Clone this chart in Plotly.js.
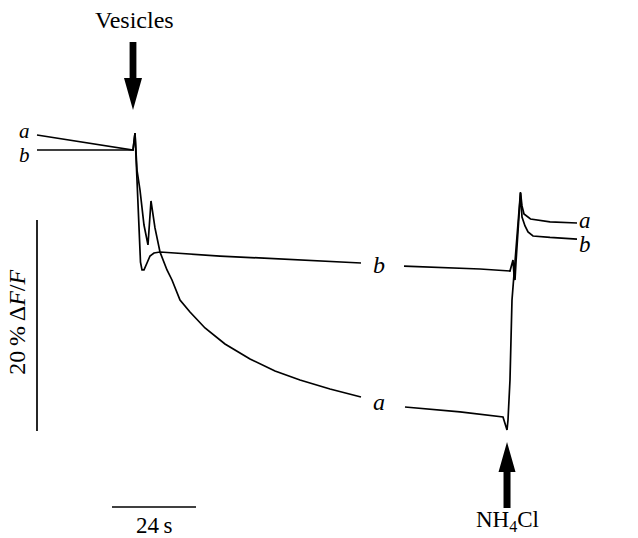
<!DOCTYPE html>
<html>
<head>
<meta charset="utf-8">
<script src="https://cdn.plot.ly/plotly-3.0.1.min.js"></script>
<style>html,body{margin:0;padding:0;background:#fff;}#chart{width:638px;height:538px;}</style>
</head>
<body>
<div id="chart"></div>
<script>
// Time (s) and fluorescence change (% ΔF/F); null = gap for the label
var timeA = [0, 27.43, 28.0, 28.57, 29.43, 30.57, 31.71, 32.57, 33.71, 35.14, 37.14, 38.57, 40.86, 43.71, 48.0, 53.71, 60.86, 68.0, 75.14, 83.71, 92.57, null,
             105.14, 120.86, 133.14, 134.29, 134.57, 135.14, 135.71, 136.86, 138.14, 138.57, 139.14, 141.0, 146.57, 154.29];
var fluorA = [1.42, 0, 1.61, -1.90, -3.79, -7.11, -9.00, -4.83, -7.39, -9.67, -11.37, -12.32, -14.22, -15.36, -16.87, -18.39, -19.81, -20.95, -21.80, -22.65, -23.41, null,
              -24.36, -24.83, -25.31, -26.54, -25.59, -21.8, -14.22, -9.48, -3.98, -5.3, -6.07, -6.54, -6.82, -6.92];

var timeB = [0, 27.43, 28.0, 28.57, 29.14, 29.57, 30.0, 30.57, 31.43, 32.29, 33.43, 35.14, 52.29, 92.57, null,
             104.86, 126.57, 135.14, 135.71, 136.0, 136.29, 136.57, 136.86, 137.43, 138.14, 138.57, 139.43, 140.29, 141.71, 146.57, 154.29];
var fluorB = [0, 0, 1.61, -2.84, -7.58, -10.62, -11.37, -11.37, -10.71, -10.05, -9.76, -9.67, -10.05, -10.71, null,
              -11.0, -11.28, -11.47, -10.9, -10.43, -11.85, -12.32, -10.62, -7.58, -4.08, -6.35, -7.2, -7.77, -8.15, -8.29, -8.44];

// Events
var vesiclesTime = 27.43;
var nh4clTime = 134.29;

// Scale bars
var timeBar = 24;      // s
var fluorBar = 20;     // % ΔF/F

var xRange = [-10.571, 171.714];
var yRange = [-36.777, 14.218];

var serif = '"Liberation Serif", "Times New Roman", serif';
var lineStyle = {color: '#000', width: 1.7};

var traces = [
  {x: timeA, y: fluorA, mode: 'lines', line: lineStyle, connectgaps: false, hoverinfo: 'skip'},
  {x: timeB, y: fluorB, mode: 'lines', line: lineStyle, connectgaps: false, hoverinfo: 'skip'}
];

var tBar0 = 21.43;
var barY = -33.84;
var vBarTop = -6.635;

function label(txt, x, y, size, extra) {
  var a = {x: x, y: y, xref: 'x', yref: 'y', text: txt, showarrow: false,
           font: {family: serif, size: size, color: '#000'}, xanchor: 'center', yanchor: 'middle'};
  for (var k in extra) a[k] = extra[k];
  return a;
}

var layout = {
  width: 638, height: 538,
  margin: {l: 0, r: 0, t: 0, b: 0},
  paper_bgcolor: '#fff', plot_bgcolor: '#fff',
  showlegend: false,
  xaxis: {range: xRange, visible: false, fixedrange: true},
  yaxis: {range: yRange, visible: false, fixedrange: true},
  shapes: [
    {type: 'line', xref: 'x', yref: 'y', x0: tBar0, x1: tBar0 + timeBar, y0: barY, y1: barY, line: {color: '#000', width: 1.7}},
    {type: 'line', xref: 'x', yref: 'y', x0: 0, x1: 0, y0: vBarTop, y1: vBarTop - fluorBar, line: {color: '#000', width: 1.7}},
    {type: 'path', xref: 'x', yref: 'y', xsizemode: 'pixel', ysizemode: 'pixel',
     xanchor: vesiclesTime, yanchor: 3.79,
     path: 'M0,0L-9,32L-3.4,32L-3.4,68L3.4,68L3.4,32L9,32Z', fillcolor: '#000', line: {width: 0}},
    {type: 'path', xref: 'x', yref: 'y', xsizemode: 'pixel', ysizemode: 'pixel',
     xanchor: nh4clTime, yanchor: -27.68,
     path: 'M0,0L-8.5,-30L-3.5,-30L-3.5,-66L3.5,-66L3.5,-30L8.5,-30Z', fillcolor: '#000', line: {width: 0}}
  ],
  annotations: [
    label('Vesicles', vesiclesTime + 0.3, 12.3, 24),
    label('NH<sub>4</sub>Cl', nh4clTime, -35.2, 23),
    label('24\u2009s', tBar0 + timeBar / 2, -35.6, 23),
    label('20\u2009% \u0394<i>F</i>/<i>F</i>', -5.6, vBarTop - fluorBar / 2 + 0.3, 24, {textangle: -90}),
    label('<i>a</i>', -3.71, 1.8, 21),
    label('<i>b</i>', -3.71, -0.45, 21),
    label('<i>b</i>', 97.71, -10.9, 24),
    label('<i>a</i>', 97.71, -23.89, 24),
    label('<i>a</i>', 156.57, -6.72, 23),
    label('<i>b</i>', 156.57, -8.92, 23)
  ]
};

Plotly.newPlot('chart', traces, layout, {displayModeBar: false, staticPlot: true});
</script>
</body>
</html>
